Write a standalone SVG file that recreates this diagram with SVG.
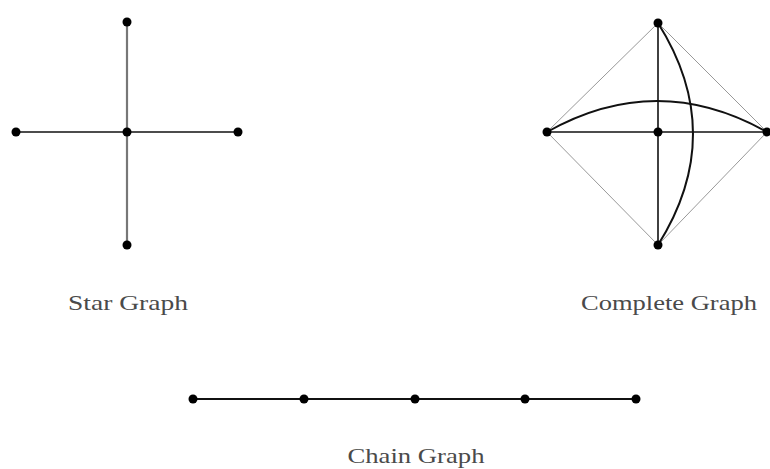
<svg xmlns="http://www.w3.org/2000/svg" width="770" height="469" viewBox="0 0 770 469">
<style>
.n{fill:#000}
.e{stroke:#111;stroke-width:1.6;fill:none}
.g{stroke:#777;stroke-width:2.2;fill:none}
.t{stroke:#999;stroke-width:1;fill:none}
.c{stroke:#111;stroke-width:2;fill:none}
.lbl{font-family:"Liberation Serif",serif;font-size:21px;fill:#4a4a4a;text-anchor:middle}
</style>
<rect width="770" height="469" fill="#fff"/>
<g id="connectors">
<line class="g" x1="127" y1="22" x2="127" y2="245"/>
<line class="e" x1="16" y1="132" x2="238" y2="132"/>
<line class="t" x1="658" y1="23" x2="547" y2="132"/>
<line class="t" x1="658" y1="23" x2="767" y2="132"/>
<line class="t" x1="547" y1="132" x2="658" y2="245"/>
<line class="t" x1="767" y1="132" x2="658" y2="245"/>
<line class="e" x1="658" y1="23" x2="658" y2="245"/>
<line class="e" x1="547" y1="132" x2="767" y2="132"/>
<path class="c" d="M658,23 Q728,134 658,245"/>
<path class="c" d="M547,132 Q657,70 767,132"/>
<line class="c" x1="193" y1="399" x2="636" y2="399"/>
</g>
<g id="star">
<circle class="n" cx="127" cy="22" r="4.5"/>
<circle class="n" cx="127" cy="132" r="4.5"/>
<circle class="n" cx="16" cy="132" r="4.5"/>
<circle class="n" cx="238" cy="132" r="4.5"/>
<circle class="n" cx="127" cy="245" r="4.5"/>
<text class="lbl" x="128" y="310" textLength="120" lengthAdjust="spacingAndGlyphs">Star Graph</text>
</g>
<g id="complete">
<circle class="n" cx="658" cy="23" r="4.5"/>
<circle class="n" cx="658" cy="132" r="4.5"/>
<circle class="n" cx="547" cy="132" r="4.5"/>
<circle class="n" cx="767" cy="132" r="4.5"/>
<circle class="n" cx="658" cy="245" r="4.5"/>
<text class="lbl" x="669" y="310" textLength="176" lengthAdjust="spacingAndGlyphs">Complete Graph</text>
</g>
<g id="chain">
<circle class="n" cx="193" cy="399" r="4.5"/>
<circle class="n" cx="304" cy="399" r="4.5"/>
<circle class="n" cx="415" cy="399" r="4.5"/>
<circle class="n" cx="525" cy="399" r="4.5"/>
<circle class="n" cx="636" cy="399" r="4.5"/>
<text class="lbl" x="416" y="463" textLength="137" lengthAdjust="spacingAndGlyphs">Chain Graph</text>
</g>
</svg>
